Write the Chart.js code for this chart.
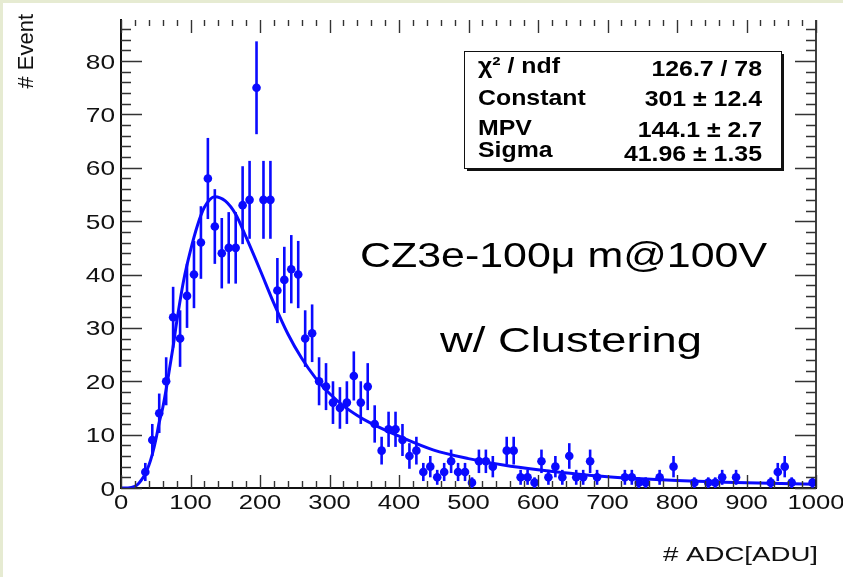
<!DOCTYPE html>
<html>
<head>
<meta charset="utf-8">
<script src="https://cdn.jsdelivr.net/npm/chart.js@4.4.0/dist/chart.umd.min.js"></script>
<style>
  body { margin: 0; background: #fff; }
  canvas { display: block; }
</style>
</head>
<body>
<canvas id="landauChart" width="843" height="577"></canvas>
<script>
// histogram: bin centres [ADU], entries and their error bars
const binCenters = [35, 45, 55, 65, 75, 85, 95, 105, 115, 125, 135, 145, 155, 165, 175, 185, 195, 205, 215, 225,
    235, 245, 255, 265, 275, 285, 295, 305, 315, 325, 335, 345, 355, 365, 375, 385, 395, 405, 415, 425,
    435, 445, 455, 465, 475, 485, 495, 505, 515, 525, 535, 555, 565, 575, 585, 595, 605, 615, 625, 635,
    645, 655, 665, 675, 685, 725, 735, 745, 755, 775, 795, 825, 845, 855, 865, 885, 935, 945, 955, 965, 995];
const counts = [3, 9, 14, 20, 32, 28, 36, 40, 46, 58, 49, 44, 45, 45, 53, 54, 75, 54, 54, 37,
    39, 41, 40, 28, 29, 20, 19, 16, 15, 16, 21, 16, 19, 12, 7, 11, 11, 9, 6, 7,
    3, 4, 2, 3, 5, 3, 3, 1, 5, 5, 4, 7, 7, 2, 2, 1, 5, 2, 4, 2,
    6, 2, 2, 5, 2, 2, 2, 1, 1, 2, 4, 1, 1, 1, 2, 2, 1, 3, 4, 1, 1];
const errors = [1.7, 3, 3.7, 4.5, 5.7, 5.3, 6, 6.3, 6.8, 7.6, 7, 6.6, 6.7, 6.7, 7.3, 7.3, 8.7, 7.3, 7.3, 6.1,
    6.2, 6.4, 6.3, 5.3, 5.4, 4.5, 4.4, 4, 3.9, 4, 4.6, 4, 4.4, 3.5, 2.6, 3.3, 3.3, 3, 2.4, 2.6,
    1.7, 2, 1.4, 1.7, 2.2, 1.7, 1.7, 1, 2.2, 2.2, 2, 2.6, 2.6, 1.4, 1.4, 1, 2.2, 1.4, 2, 1.4,
    2.4, 1.4, 1.4, 2.2, 1.4, 1.4, 1.4, 1, 1, 1.4, 2, 1, 1, 1, 1.4, 1.4, 1, 1.7, 2, 1, 1];

// Landau fit curve
const fitX = [0, 10, 20, 25, 30, 35, 40, 45, 50, 55, 60, 65, 70, 75, 80, 90, 100, 110, 120, 135,
    150, 165, 180, 200, 220, 240, 260, 280, 300, 320, 340, 360, 400, 450, 500, 550, 600, 650, 700, 800, 900, 1000];
const fitY = [0, 0, 0.3, 0.8, 1.6, 2.7, 4.2, 6.3, 9, 12.3, 15, 18.5, 22.5, 26.5, 31, 38.8, 44.5, 49.2, 52.6, 54.6,
    53.8, 51.3, 47, 40.9, 34.6, 28.9, 24.3, 20.6, 17.7, 15.4, 13.6, 12.1, 9.7, 7.1, 5.5, 4.3, 3.4, 2.7, 2.1, 1.4, 0.98, 0.7];

const xTicks = [0, 100, 200, 300, 400, 500, 600, 700, 800, 900, 1000];
const yTicks = [0, 10, 20, 30, 40, 50, 60, 70, 80];

const statsRows = [
    ["\u03c7\u00b2 / ndf", "126.7 / 78"],
    ["Constant", "301 \u00b1 12.4"],
    ["MPV", "144.1 \u00b1 2.7"],
    ["Sigma", "41.96 \u00b1 1.35"]
];

const BLUE = "#0a0aff";
const FONT = '"Liberation Sans", Arial, Helvetica, sans-serif';

function stretchText(ctx, text, x, y, sx, align) {
    ctx.save();
    ctx.translate(x, y);
    ctx.scale(sx, 1);
    ctx.textAlign = align;
    ctx.fillText(text, 0, 0);
    ctx.restore();
}

function fitText(ctx, text, x, y, width, align) {
    const w = ctx.measureText(text).width;
    stretchText(ctx, text, x, y, width / w, align);
}

const rootStyle = {
    id: "rootStyle",
    beforeDraw(chart) {
        const ctx = chart.ctx;
        ctx.save();
        ctx.fillStyle = "#fff";
        ctx.fillRect(0, 0, chart.width, chart.height);
        ctx.fillStyle = "#e6ebd2";
        ctx.fillRect(0, 0, 3, chart.height);
        ctx.fillRect(0, 0, chart.width, 3);
        ctx.restore();
    },
    beforeDatasetsDraw(chart) {
        // vertical error bars
        const ctx = chart.ctx;
        const x = chart.scales.x, y = chart.scales.y;
        const area = chart.chartArea;
        ctx.save();
        ctx.beginPath();
        ctx.rect(area.left, area.top, area.right - area.left, area.bottom - area.top);
        ctx.clip();
        ctx.strokeStyle = BLUE;
        ctx.lineWidth = 2.6;
        binCenters.forEach((c, i) => {
            const px = x.getPixelForValue(c);
            ctx.beginPath();
            ctx.moveTo(px, y.getPixelForValue(counts[i] - errors[i]));
            ctx.lineTo(px, y.getPixelForValue(counts[i] + errors[i]));
            ctx.stroke();
        });
        ctx.restore();
    },
    afterDraw(chart) {
        const ctx = chart.ctx;
        const x = chart.scales.x, y = chart.scales.y;
        const a = chart.chartArea;
        ctx.save();

        // right axis line
        ctx.strokeStyle = "#111";
        ctx.lineWidth = 1.6;
        ctx.beginPath();
        ctx.moveTo(a.right, a.top);
        ctx.lineTo(a.right, a.bottom);
        ctx.stroke();

        // tick marks, inside the frame
        ctx.strokeStyle = "#333";
        ctx.lineWidth = 1.4;
        for (let v = 0; v <= y.max; v += 2) {
            const py = Math.round(y.getPixelForValue(v)) + 0.5;
            const len = v % 10 === 0 ? 21 : 10;
            ctx.beginPath();
            ctx.moveTo(a.left, py);
            ctx.lineTo(a.left + len, py);
            ctx.moveTo(a.right, py);
            ctx.lineTo(a.right - len, py);
            ctx.stroke();
        }
        for (let v = 0; v <= x.max; v += 20) {
            const px = Math.round(x.getPixelForValue(v)) + 0.5;
            const major = v % 100 === 0;
            ctx.beginPath();
            ctx.moveTo(px, a.bottom);
            ctx.lineTo(px, a.bottom - (major ? 13 : 7));
            ctx.moveTo(px, a.top);
            ctx.lineTo(px, a.top + (major ? 13 : 6));
            ctx.stroke();
        }

        // tick labels
        ctx.fillStyle = "#111";
        ctx.font = "20px " + FONT;
        xTicks.forEach(v => stretchText(ctx, String(v), x.getPixelForValue(v), a.bottom + 21, 1.28, "center"));
        ctx.font = "21px " + FONT;
        yTicks.forEach(v => stretchText(ctx, String(v), a.left - 6, y.getPixelForValue(v) + 7.5, 1.25, "right"));

        // axis titles
        ctx.font = "22px " + FONT;
        ctx.save();
        ctx.translate(33, 14);
        ctx.rotate(-Math.PI / 2);
        ctx.textAlign = "right";
        ctx.fillText("# Event", 0, 0);
        ctx.restore();
        ctx.font = "21px " + FONT;
        fitText(ctx, "# ADC[ADU]", 818, 561, 155, "right");

        // stats box
        const bx = 464, by = 51, bw = 317, bh = 117;
        ctx.fillStyle = "#111";
        ctx.fillRect(bx + 3, by + 3, bw, bh);
        ctx.fillStyle = "#fff";
        ctx.fillRect(bx, by, bw, bh);
        ctx.strokeStyle = "#111";
        ctx.lineWidth = 1;
        ctx.strokeRect(bx + 0.5, by + 0.5, bw, bh);
        ctx.fillStyle = "#000";
        ctx.font = "bold 22px " + FONT;
        const rowBase = [73, 105, 135, 157];
        const valBase = [76, 105.5, 136.5, 161];
        statsRows.forEach((r, i) => {
            stretchText(ctx, r[0], 478, rowBase[i], 1.13, "left");
            stretchText(ctx, r[1], 762, valBase[i], 1.13, "right");
        });

        // annotations
        ctx.font = "35px " + FONT;
        fitText(ctx, "CZ3e-100\u03bc m@100V", 360, 267, 407, "left");
        fitText(ctx, "w/ Clustering", 440, 352, 262, "left");

        ctx.restore();
    }
};

const ctx = document.getElementById("landauChart").getContext("2d");
new Chart(ctx, {
    type: "scatter",
    data: {
        datasets: [
            {
                label: "Landau fit",
                type: "line",
                data: fitX.map((v, i) => ({ x: v, y: fitY[i] })),
                borderColor: BLUE,
                borderWidth: 3,
                pointRadius: 0,
                cubicInterpolationMode: "monotone",
                fill: false,
            },
            {
                label: "Entries",
                data: binCenters.map((v, i) => ({ x: v, y: counts[i] })),
                backgroundColor: BLUE,
                borderWidth: 0,
                pointRadius: 4.3,
            },
        ],
    },
    options: {
        responsive: false,
        animation: false,
        layout: { padding: { left: 0, right: 27, top: 20, bottom: 0 } },
        plugins: {
            legend: { display: false },
            tooltip: { enabled: false },
        },
        scales: {
            x: {
                type: "linear",
                min: 0,
                max: 1000,
                grid: { display: false, drawTicks: false, tickLength: 0 },
                border: { display: true, color: "#111", width: 2 },
                ticks: { display: false, stepSize: 100 },
                afterFit: s => { s.height = 89; },
            },
            y: {
                min: 0,
                max: 87.7,
                grid: { display: false, drawTicks: false, tickLength: 0 },
                border: { display: true, color: "#111", width: 2 },
                ticks: { display: false, stepSize: 10, includeBounds: false },
                afterFit: s => { s.width = 121; },
            },
        },
    },
    plugins: [rootStyle],
});
</script>
</body>
</html>
